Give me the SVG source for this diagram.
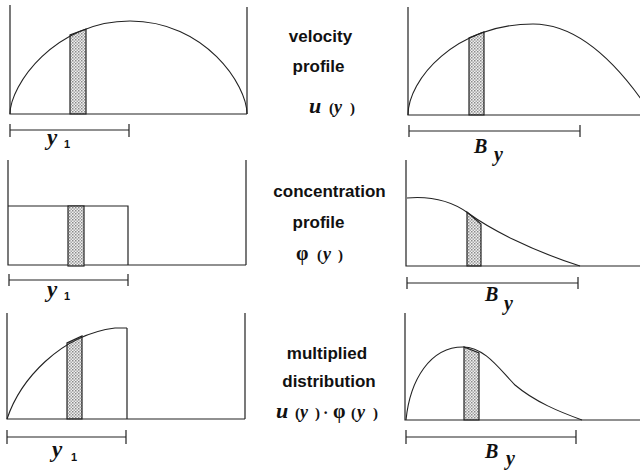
<svg xmlns="http://www.w3.org/2000/svg" width="640" height="471" viewBox="0 0 640 471">
<defs>
<pattern id="dots" width="3" height="3" patternUnits="userSpaceOnUse">
<rect width="3" height="3" fill="#f0f0f0"/>
<rect width="1.5" height="1.5" fill="#8a8a8a"/>
<rect x="1.5" y="1.5" width="1.5" height="1.5" fill="#a8a8a8"/>
</pattern>
</defs>
<style>
.ln{fill:none;stroke:#222;stroke-width:1.2}
.cv{fill:none;stroke:#222;stroke-width:1.1}
.st{fill:url(#dots);stroke:#222;stroke-width:1.2}
.lbl{font-family:"Liberation Sans",Arial,sans-serif;font-weight:bold;font-size:17px;fill:#111}
.math{font-family:"Liberation Serif","Times New Roman",serif;font-weight:bold;font-style:italic;fill:#111}
.sub{font-family:"Liberation Sans",Arial,sans-serif;font-weight:bold;font-size:11px;fill:#111}
</style>
<rect width="640" height="471" fill="#fff"/>

<!-- Row 1 left -->
<g id="vel-left">
<path class="st" d="M70,114 L70,35 L86,29 L86,114 Z"/>
<path class="ln" d="M10,5 L10,114 L247,114 M247,7 L247,114"/>
<path class="cv" d="M10,114 C10,85 55,21 130,21 C205,21 247,85 247,114"/>
<path class="ln" d="M10,130 L129,130 M10,124 L10,137 M129,124 L129,137"/>
<text class="math" x="47" y="145" font-size="23">y</text>
<text class="sub" x="64" y="148">1</text>
</g>

<!-- Row 1 right -->
<g id="vel-right">
<path class="st" d="M469,115 L469,38 L484,32 L484,115 Z"/>
<path class="ln" d="M408,7 L408,115 L640,115"/>
<path class="cv" d="M408,115 C408,80 455,24 533,24 Q592.5,24 652,115"/>
<path class="ln" d="M409,131 L580,131 M409,125 L409,137 M580,125 L580,137"/>
<text class="math" x="474" y="153" font-size="20">B</text>
<text class="math" x="494" y="161" font-size="20">y</text>
</g>

<!-- Row 2 left -->
<g id="conc-left">
<path class="ln" d="M8,160 L8,265 L246,265 M246,160 L246,265 M8,206 L128,206 L128,265"/>
<rect class="st" x="68" y="206" width="16" height="60"/>
<path class="ln" d="M9,280 L128,280 M9,274 L9,286 M128,274 L128,286"/>
<text class="math" x="47" y="297" font-size="23">y</text>
<text class="sub" x="64" y="300">1</text>
</g>

<!-- Row 2 right -->
<g id="conc-right">
<path class="st" d="M467,266 L467,212 L481,224 L481,266 Z"/>
<path class="ln" d="M406,160 L406,266 L640,266"/>
<path class="cv" d="M407,198 C430,196 450,200 468,213 C490,229 530,250 580,266"/>
<path class="ln" d="M407,283 L578,283 M407,277 L407,289 M578,277 L578,289"/>
<text class="math" x="485" y="301" font-size="20">B</text>
<text class="math" x="504" y="310" font-size="20">y</text>
</g>

<!-- Row 3 left -->
<g id="mult-left">
<path class="st" d="M67,419 L67,343 L82,336 L82,419 Z"/>
<path class="ln" d="M7,313 L7,419 L245,419 M245,313 L245,419 M127,328 L127,419"/>
<path class="cv" d="M7,419 C20,380 60,335 115,328 L127,328"/>
<path class="ln" d="M7,437 L126,437 M7,430 L7,444 M126,430 L126,444"/>
<text class="math" x="52" y="457" font-size="23" font-weight="normal">y</text>
<text class="sub" x="71" y="461">1</text>
</g>

<!-- Row 3 right -->
<g id="mult-right">
<path class="st" d="M464,420 L464,347 L479,353 L479,420 Z"/>
<path class="ln" d="M405,313 L405,420 L640,420"/>
<path class="cv" d="M406,420 C410,380 430,347 463,347 C485,347 500,370 515,385 C535,402 560,412 582,420"/>
<path class="ln" d="M406,437 L576,437 M406,430 L406,444 M576,430 L576,444"/>
<text class="math" x="485" y="458" font-size="20">B</text>
<text class="math" x="506" y="465" font-size="20">y</text>
</g>

<!-- Middle labels -->
<g id="label-velocity">
<text class="lbl" x="320.5" y="42" text-anchor="middle">velocity</text>
<text class="lbl" x="318.5" y="72" text-anchor="middle">profile</text>
<text class="math" y="113"><tspan x="309" font-size="22">u</tspan><tspan x="329" font-size="15" font-style="normal">(</tspan><tspan x="334" font-size="18">y</tspan><tspan x="350" font-size="15" font-style="normal">)</tspan></text>
</g>
<g id="label-concentration">
<text class="lbl" x="329.5" y="197" text-anchor="middle">concentration</text>
<text class="lbl" x="318.5" y="228" text-anchor="middle">profile</text>
<text class="math" y="260"><tspan x="296" font-size="20" font-style="normal">φ</tspan><tspan x="317" font-size="15" font-style="normal">(</tspan><tspan x="323" font-size="18">y</tspan><tspan x="338" font-size="15" font-style="normal">)</tspan></text>
</g>
<g id="label-multiplied">
<text class="lbl" x="327" y="359" text-anchor="middle">multiplied</text>
<text class="lbl" x="329" y="387" text-anchor="middle">distribution</text>
<text class="math" y="418"><tspan x="276" font-size="22">u</tspan><tspan x="295" font-size="15" font-style="normal">(</tspan><tspan x="300" font-size="18">y</tspan><tspan x="315" font-size="15" font-style="normal">)</tspan><tspan x="323" font-size="16" font-style="normal">·</tspan><tspan x="333" font-size="20" font-style="normal">φ</tspan><tspan x="351" font-size="15" font-style="normal">(</tspan><tspan x="357" font-size="18">y</tspan><tspan x="373" font-size="15" font-style="normal">)</tspan></text>
</g>
</svg>
